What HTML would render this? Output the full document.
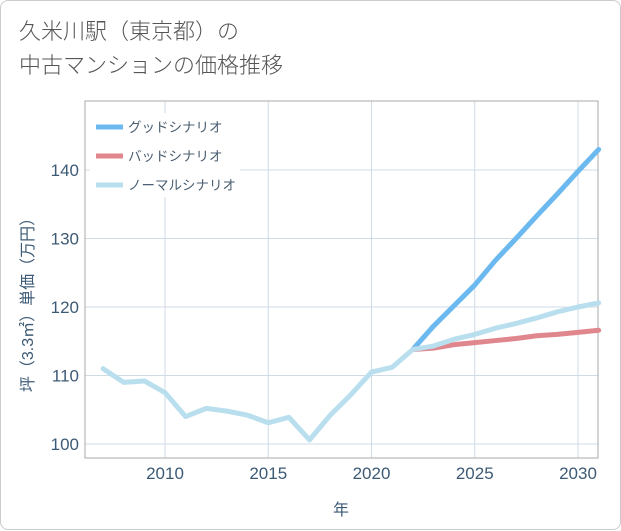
<!DOCTYPE html>
<html><head><meta charset="utf-8">
<style>
body{margin:0;background:#fff;}
#card{position:relative;width:619px;height:528px;border:1px solid #ccc;border-radius:8px;background:#fff;font-family:"Liberation Sans","Noto Sans CJK JP",sans-serif;}
#title{position:absolute;left:18px;top:14px;font-size:22px;line-height:34px;color:#555;font-weight:300;}
svg{position:absolute;left:0;top:0;}
text{font-family:"Liberation Sans","Noto Sans CJK JP",sans-serif;}
</style></head><body>
<div id="card">
<div id="title">久米川駅（東京都）の<br>中古マンションの価格推移</div>
<svg id="chart" width="621" height="530"></svg>
</div>
<script>
const years=[2007,2008,2009,2010,2011,2012,2013,2014,2015,2016,2017,2018,2019,2020,2021,2022,2023,2024,2025,2026,2027,2028,2029,2030,2031];
const normalVals=[111,109,109.2,107.5,104,105.2,104.8,104.2,103.1,103.9,100.6,104.2,107.2,110.5,111.2,113.8,114.3,115.3,116,116.9,117.6,118.4,119.3,120,120.6];
const futureYears=[2022,2023,2024,2025,2026,2027,2028,2029,2030,2031];
const goodVals=[113.8,117.2,120.2,123.2,126.8,130,133.3,136.5,139.8,143];
const badVals=[113.8,114,114.5,114.8,115.1,115.4,115.8,116,116.3,116.6];
const xTicks=[2010,2015,2020,2025,2030];
const yTicks=[100,110,120,130,140];
const seriesNames=["グッドシナリオ","バッドシナリオ","ノーマルシナリオ"];
const NS="http://www.w3.org/2000/svg";
const svg=document.getElementById('chart');
const L=84,R=597,T=100,B=457;
const x=v=>164+(v-2010)*(577-164)/20;
const y=v=>443-(v-100)*(443-169)/40;
function el(t,a){const e=document.createElementNS(NS,t);for(const k in a)e.setAttribute(k,a[k]);svg.appendChild(e);return e;}
xTicks.forEach(v=>{const g=el('line',{x1:x(v),x2:x(v),y1:T,y2:B,stroke:'#cfdbe5'});


const t=el('text',{x:x(v),y:478,'text-anchor':'middle','font-size':17,fill:'#3d5a75'});t.textContent=v;

});
yTicks.forEach(v=>{const g=el('line',{x1:L,x2:R,y1:y(v),y2:y(v),stroke:'#cfdbe5'});


const t=el('text',{x:78,y:y(v)+6,'text-anchor':'end','font-size':17,fill:'#3d5a75'});t.textContent=v;

});
const frame=el('rect',{x:L,y:T,width:R-L,height:B-T,fill:'none',stroke:'#aaa'});


const xt=el('text',{x:340,y:514,'text-anchor':'middle','font-size':16,fill:'#3d5a75'});xt.textContent='年';


const yt=el('text',{x:0,y:0,'text-anchor':'middle','font-size':16,fill:'#3d5a75',transform:'translate(32,300) rotate(-90)'});yt.textContent='坪（3.3㎡）単価（万円）';


const lg=el('rect',{x:89,y:112,width:150,height:84,fill:'#fff'});


function line(xs,vs,c,name){const p=el('polyline',{points:xs.map((v,i)=>x(v)+','+y(vs[i])).join(' '),fill:'none',stroke:c,'stroke-width':5,'stroke-linejoin':'round','stroke-linecap':'round'});

}
line(futureYears,goodVals,'#6cb9f0','good-scenario-line');
line(futureYears,badVals,'#e0878e','bad-scenario-line');
line(years,normalVals,'#b9dfee','normal-scenario-line');
const colors=['#6cb9f0','#e0878e','#b9dfee'];
seriesNames.forEach((n,i)=>{const ly=126+i*29;
const s=el('line',{x1:95,x2:122,y1:ly,y2:ly,stroke:colors[i],'stroke-width':5});


const t=el('text',{x:127,y:ly+5,'font-size':13.5,fill:'#4a5e70'});t.textContent=n;

});
</script>
</body></html>
